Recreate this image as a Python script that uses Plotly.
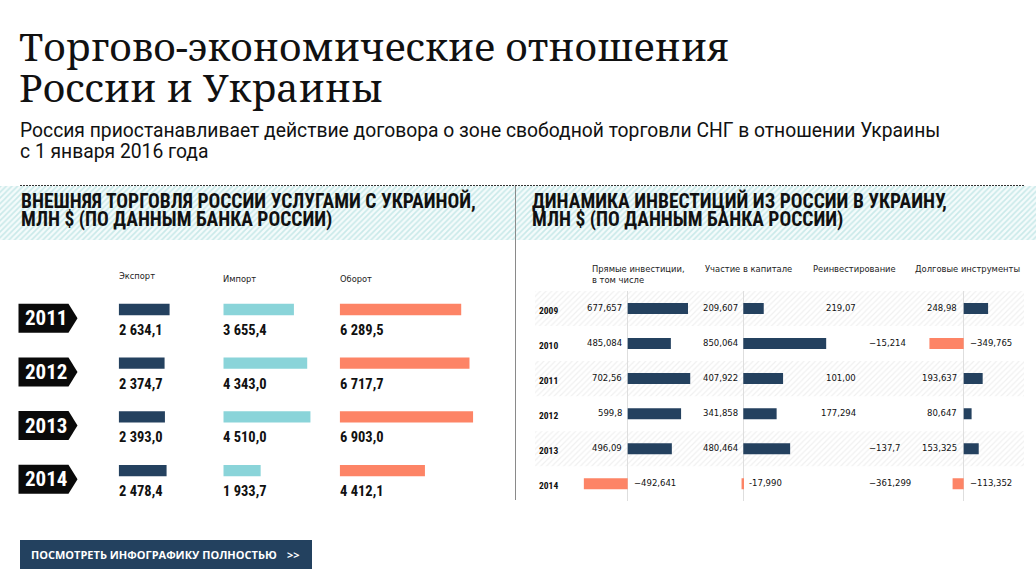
import plotly.graph_objects as go

W, H = 1036, 588

# ---------------- data ----------------
years_left = ["2011", "2012", "2013", "2014"]
export_vals = [2634.1, 2374.7, 2393.0, 2478.4]
import_vals = [3655.4, 4343.0, 4510.0, 1933.7]
turnover_vals = [6289.5, 6717.7, 6903.0, 4412.1]
left_headers = ["Экспорт", "Импорт", "Оборот"]

years_right = ["2009", "2010", "2011", "2012", "2013", "2014"]
direct_vals = [677.657, 485.084, 702.56, 599.8, 496.09, -492.641]
direct_lbls = ["677,657", "485,084", "702,56", "599,8", "496,09", "−492,641"]
equity_vals = [209.607, 850.064, 407.922, 341.858, 480.464, -17.990]
equity_lbls = ["209,607", "850,064", "407,922", "341,858", "480,464", "-17,990"]
reinv_vals = [219.07, -15.214, 101.00, 177.294, -137.7, -361.299]
reinv_lbls = ["219,07", "−15,214", "101,00", "177,294", "−137,7", "−361,299"]
debt_vals = [248.98, -349.765, 193.637, 80.647, 153.325, -113.352]
debt_lbls = ["248,98", "−349,765", "193,637", "80,647", "153,325", "−113,352"]
right_headers = ["Прямые инвестиции,<br>в том числе", "Участие в капитале",
                 "Реинвестирование", "Долговые инструменты"]

title_lines = ["Торгово-экономические отношения", "России и Украины"]
subtitle_lines = ["Россия приостанавливает действие договора о зоне свободной торговли СНГ в отношении Украины",
                  "с 1 января 2016 года"]
left_title = ["ВНЕШНЯЯ ТОРГОВЛЯ РОССИИ УСЛУГАМИ С УКРАИНОЙ,", "МЛН $ (ПО ДАННЫМ БАНКА РОССИИ)"]
right_title = ["ДИНАМИКА ИНВЕСТИЦИЙ ИЗ РОССИИ В УКРАИНУ,", "МЛН $ (ПО ДАННЫМ БАНКА РОССИИ)"]
button_text = "ПОСМОТРЕТЬ ИНФОГРАФИКУ ПОЛНОСТЬЮ"

# ---------------- style ----------------
NAVY = "#24415f"
TEAL = "#8ad4d9"
CORAL = "#fd8466"
NARROW = "Roboto Condensed, DejaVu Sans Condensed, sans-serif"
SMALL = "DejaVu Sans, Verdana, sans-serif"
SERIF = "Noto Serif, Liberation Serif, serif"
SANS = "Roboto, sans-serif"


def px(x):
    return x / W


def py(y):
    return 1 - y / H


def fmt_ru(v):
    s = f"{v:,.1f}"
    return s.replace(",", " ").replace(".", ",")


fig = go.Figure()
layout = dict(width=W, height=H, margin=dict(l=0, r=0, t=0, b=0),
              paper_bgcolor="white", plot_bgcolor="rgba(0,0,0,0)",
              showlegend=False, annotations=[], shapes=[])

# page axis (pixel coordinates) for decorative hatched bands
layout["xaxis"] = dict(domain=[0, 1], range=[0, W], visible=False, fixedrange=True)
layout["yaxis"] = dict(domain=[0, 1], range=[H, 0], visible=False, fixedrange=True)


def hatch(x0, x1, y0, y1, fg, bg, size=4, solidity=0.35):
    fig.add_trace(go.Scatter(x=[x0, x1, x1, x0, x0], y=[y0, y0, y1, y1, y0],
                             mode="none", fill="toself", fillcolor=bg,
                             fillpattern=dict(shape="/", fgcolor=fg, bgcolor=bg,
                                              size=size, solidity=solidity),
                             hoverinfo="skip", xaxis="x", yaxis="y"))


hatch(0, W, 186, 240, "#9dd7d7", "#f4fbfb", 4, 0.4)

# ---------------- left panel ----------------
row_l = 53.7
top_l = 309.5 - row_l / 2
bot_l = top_l + row_l * len(years_left)
layout["yaxis2"] = dict(domain=[py(bot_l), py(top_l)], range=[len(years_left) - 0.5, -0.5],
                        visible=False, fixedrange=True)
scale_l = 0.01932  # px per mln $
left_cols = [(118.7, 100, export_vals, NAVY), (223.3, 100, import_vals, TEAL),
             (339.7, 150, turnover_vals, CORAL)]
yl = list(range(len(years_left)))
for k, (x0, w, vals, col) in enumerate(left_cols):
    ax = f"xaxis{k + 2}"
    layout[ax] = dict(domain=[px(x0), px(x0 + w)], range=[0, w / scale_l], anchor="y2",
                      visible=False, fixedrange=True)
    fig.add_trace(go.Bar(x=vals, y=yl, orientation="h", width=0.21,
                         marker=dict(color=col, line=dict(width=0)),
                         xaxis=f"x{k + 2}", yaxis="y2", hoverinfo="skip"))
    for i, v in enumerate(vals):
        layout["annotations"].append(dict(
            xref=f"x{k + 2}", yref="y2", x=0, y=i, xanchor="left", yanchor="middle",
            xshift=-2, yshift=-21, showarrow=False,
            text=f"<b>{fmt_ru(v)}</b>", font=dict(family=NARROW, size=14.5, color="#111")))
    hy = [275.5, 279, 279][k]
    layout["annotations"].append(dict(
        xref="paper", yref="paper", x=px(x0 - 2), y=py(hy), xanchor="left", yanchor="middle",
        showarrow=False, text=left_headers[k], font=dict(family=SMALL, size=8.3, color="#222")))

# year badges
for i, yr in enumerate(years_left):
    c = i + 0.162
    h = 0.27
    x0, x1, x2 = px(18.5), px(68.5), px(77.5)
    layout["shapes"].append(dict(
        type="path", xref="paper", yref="y2",
        path=f"M {x0},{c - h} L {x1},{c - h} L {x2},{c} L {x1},{c + h} L {x0},{c + h} Z",
        fillcolor="#0a0a0a", line=dict(width=0)))
    layout["annotations"].append(dict(
        xref="paper", yref="y2", x=px(45.5), y=c, xanchor="center", yanchor="middle",
        showarrow=False, text=f"<b>{yr}</b>", font=dict(family=NARROW, size=21, color="white")))

# ---------------- right panel ----------------
row_r = 35.06
top_r = 308.5 - row_r / 2
bot_r = top_r + row_r * len(years_right)
layout["yaxis3"] = dict(domain=[py(bot_r), py(top_r)], range=[len(years_right) - 0.5, -0.5],
                        visible=False, fixedrange=True)
yr_idx = list(range(len(years_right)))

# faint hatched row bands
for i in yr_idx[::2]:
    cy = 308.5 + i * row_r
    hatch(535, 1024, cy - row_r / 2, cy + row_r / 2, "#e2e2e2", "white", 4, 0.3)

right_cols = [
    # zero px, px per unit, domain px, values, labels, draw bars, header x, shift
    (627.7, 0.089, (575, 705), direct_vals, direct_lbls, True, 591.5, 4),
    (743.3, 0.0975, (705, 845), equity_vals, equity_lbls, True, 704, 3.5),
    (862.5, 0.098, (845, 905), reinv_vals, reinv_lbls, False, 812, 4.5),
    (963.7, 0.098, (905, 1025), debt_vals, debt_lbls, True, 914, 4.5),
]
for k, (z, s, (d0, d1), vals, lbls, bars, hx, sh) in enumerate(right_cols):
    n = k + 5
    layout[f"xaxis{n}"] = dict(domain=[px(d0), px(d1)], range=[(d0 - z) / s, (d1 - z) / s],
                               anchor="y3", showgrid=False, showticklabels=False, ticks="",
                               showline=False, zeroline=bars, zerolinecolor="#dedede",
                               zerolinewidth=1, fixedrange=True)
    if bars:
        fig.add_trace(go.Bar(x=vals, y=yr_idx, orientation="h", width=0.314,
                             marker=dict(color=[NAVY if v >= 0 else CORAL for v in vals],
                                         line=dict(width=0)),
                             xaxis=f"x{n}", yaxis="y3", hoverinfo="skip"))
    for i, (v, t) in enumerate(zip(vals, lbls)):
        layout["annotations"].append(dict(
            xref=f"x{n}", yref="y3", x=0, y=i, xanchor="right" if v >= 0 else "left",
            yanchor="middle", xshift=-sh if v >= 0 else sh, yshift=1, showarrow=False,
            text=t, font=dict(family=SMALL, size=8.5, color="#111")))
    layout["annotations"].append(dict(
        xref="paper", yref="paper", x=px(hx - 1.5), y=py(262), xanchor="left", yanchor="top",
        align="left", showarrow=False, text=right_headers[k],
        font=dict(family=SMALL, size=8.4, color="#222")))

for i, yr in enumerate(years_right):
    layout["annotations"].append(dict(
        xref="paper", yref="y3", x=px(537), y=i, xanchor="left", yanchor="middle", yshift=-2,
        showarrow=False, text=f"<b>{yr}</b>", font=dict(family=NARROW, size=9.5, color="#111")))

# ---------------- titles, lines, button ----------------
for j, t in enumerate(title_lines):
    layout["annotations"].append(dict(
        xref="paper", yref="paper", x=px(17), y=py(46 + j * 40.7), xanchor="left", yanchor="middle",
        showarrow=False, text=t, font=dict(family=SERIF, size=39, color="#111")))
for j, t in enumerate(subtitle_lines):
    layout["annotations"].append(dict(
        xref="paper", yref="paper", x=px(18), y=py(130 + j * 21), xanchor="left", yanchor="middle",
        showarrow=False, text=t, font=dict(family=SANS, size=19.3, color="#111")))
for j in range(2):
    layout["annotations"].append(dict(
        xref="paper", yref="paper", x=px(19), y=py(201 + j * 18.7), xanchor="left", yanchor="middle",
        showarrow=False, text=f"<b>{left_title[j]}</b>", font=dict(family=NARROW, size=19.5, color="#111")))
    layout["annotations"].append(dict(
        xref="paper", yref="paper", x=px(530), y=py(201 + j * 18.7), xanchor="left", yanchor="middle",
        showarrow=False, text=f"<b>{right_title[j]}</b>", font=dict(family=NARROW, size=19.5, color="#111")))

layout["shapes"] += [
    dict(type="line", xref="paper", yref="paper", x0=px(20), x1=px(1024), y0=py(185.5), y1=py(185.5),
         line=dict(color="#333", width=1, dash="2px,1px")),
    dict(type="line", xref="paper", yref="paper", x0=px(515.5), x1=px(515.5), y0=py(186), y1=py(500),
         line=dict(color="#8a8a8a", width=1)),
    dict(type="rect", xref="paper", yref="paper", x0=px(20), x1=px(312), y0=py(540), y1=py(569),
         fillcolor="#23415f", line=dict(width=0)),
]
layout["annotations"].append(dict(
    xref="paper", yref="paper", x=px(29), y=py(554.5), xanchor="left", yanchor="middle",
    showarrow=False, text=f"<b>{button_text}</b>", font=dict(family="Open Sans, sans-serif", size=11, color="white")))
layout["annotations"].append(dict(
    xref="paper", yref="paper", x=px(285), y=py(554.5), xanchor="left", yanchor="middle",
    showarrow=False, text="<b>&gt;&gt;</b>", font=dict(family="Open Sans, sans-serif", size=11, color="white")))

fig.update_layout(**layout)
fig.write_html("out.html", config={"displayModeBar": False})
